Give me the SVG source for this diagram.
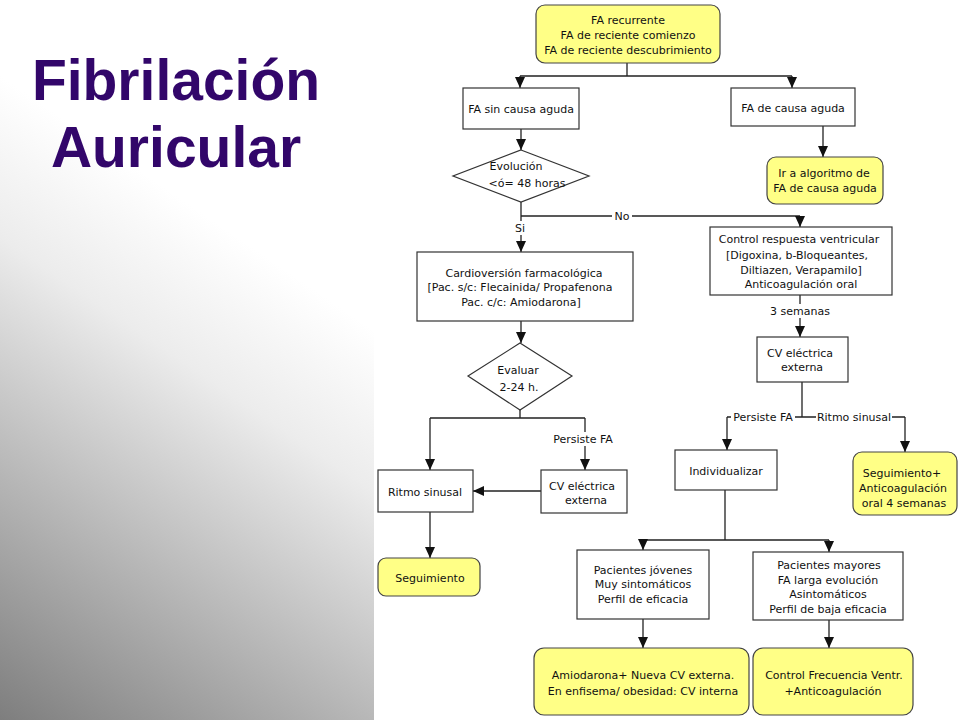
<svg xmlns="http://www.w3.org/2000/svg" width="960" height="720" viewBox="0 0 960 720">
<defs>
<linearGradient id="bg" gradientUnits="userSpaceOnUse" x1="300" y1="280" x2="0" y2="720">
<stop offset="0" stop-color="#ffffff"/>
<stop offset="0.25" stop-color="#ececec"/>
<stop offset="1" stop-color="#7e7e7e"/>
</linearGradient>
<marker id="arr" markerUnits="userSpaceOnUse" markerWidth="12" markerHeight="12" viewBox="0 0 12 12" refX="11" refY="6" orient="auto">
<path d="M0,1 L11,6 L0,11 Z" fill="#111"/>
</marker>
<style>
.box{fill:#ffffff;stroke:#333;stroke-width:1.2}
.yel{fill:#ffff86;stroke:#444;stroke-width:1.2}
.t{font-family:"DejaVu Sans",Verdana,sans-serif;font-size:11px;fill:#111;text-anchor:middle}
.ln{fill:none;stroke:#222;stroke-width:1.3}
.ar{fill:none;stroke:#222;stroke-width:1.3;marker-end:url(#arr)}
.lb{fill:#ffffff}
.title{font-family:"Liberation Sans",Arial,sans-serif;font-weight:bold;font-size:57px;fill:#32066a;text-anchor:middle}
</style>
</defs>
<rect x="0" y="0" width="374" height="720" fill="url(#bg)"/>
<rect x="374" y="0" width="586" height="720" fill="#ffffff"/>
<g id="title">
<text class="title" x="176" y="100">Fibrilación</text>
<text class="title" x="176" y="167">Auricular</text>
</g>

<g id="connectors">
<path class="ln" d="M627,63 V76 M520,76 H792"/>
<path class="ar" d="M520,76 V88"/>
<path class="ar" d="M792,76 V88"/>
<path class="ar" d="M521,129 V150"/>
<path class="ar" d="M823,126 V157"/>
<path class="ar" d="M521,202 V252"/>
<path class="ln" d="M521,216 H800"/>
<path class="ar" d="M800,216 V227"/>
<path class="ar" d="M521,321 V343"/>
<path class="ln" d="M520,410 V418 M430,418 H585"/>
<path class="ar" d="M430,418 V470"/>
<path class="ar" d="M585,418 V470"/>
<path class="ar" d="M541,491 H473"/>
<path class="ar" d="M430,512 V558"/>
<path class="ar" d="M800,295 V337"/>
<path class="ln" d="M802,382 V417 M727,417 H905"/>
<path class="ar" d="M727,417 V450"/>
<path class="ar" d="M905,417 V452"/>
<path class="ln" d="M725,490 V540 M643,540 H829"/>
<path class="ar" d="M643,540 V550"/>
<path class="ar" d="M829,540 V552"/>
<path class="ar" d="M643,619 V648"/>
<path class="ar" d="M829,620 V648"/>
<rect class="lb" x="513" y="221" width="15" height="14"/>
<text class="t" x="520" y="232">Si</text>
<rect class="lb" x="612" y="210" width="20" height="12"/>
<text class="t" x="622" y="220">No</text>
<rect class="lb" x="550" y="432" width="68" height="14"/>
<text class="t" x="583" y="443">Persiste FA</text>
<rect class="lb" x="768" y="304" width="64" height="14"/>
<text class="t" x="800" y="315">3 semanas</text>
<rect class="lb" x="731" y="410" width="64" height="14"/>
<text class="t" x="763" y="421">Persiste FA</text>
<rect class="lb" x="816" y="410" width="76" height="14"/>
<text class="t" x="854" y="421">Ritmo sinusal</text>
</g>

<g id="n1">
<rect class="yel" x="536" y="5" width="184" height="58" rx="9"/>
<text class="t" x="628" y="24">FA recurrente</text>
<text class="t" x="628" y="39">FA de reciente comienzo</text>
<text class="t" x="628" y="54">FA de reciente descubrimiento</text>
</g>
<g id="n2">
<rect class="box" x="463" y="88" width="116" height="41"/>
<text class="t" x="521" y="113">FA sin causa aguda</text>
</g>
<g id="n3">
<rect class="box" x="731" y="88" width="124" height="38"/>
<text class="t" x="793" y="112">FA de causa aguda</text>
</g>
<g id="n4">
<polygon class="box" points="521,150 589,176 521,202 453,176"/>
<text class="t" x="516" y="170">Evolución</text>
<text class="t" x="527" y="187">&lt;ó= 48 horas</text>
</g>
<g id="n5">
<rect class="yel" x="767" y="157" width="116" height="47" rx="9"/>
<text class="t" x="824" y="177">Ir a algoritmo de</text>
<text class="t" x="825" y="192">FA de causa aguda</text>
</g>
<g id="n6">
<rect class="box" x="417" y="252" width="216" height="69"/>
<text class="t" x="524" y="277">Cardioversión farmacológica</text>
<text class="t" x="520" y="291">[Pac. s/c: Flecainida/ Propafenona</text>
<text class="t" x="521" y="306">Pac. c/c: Amiodarona]</text>
</g>
<g id="n7">
<polygon class="box" points="520,343 572,376 520,410 468,376"/>
<text class="t" x="518" y="374">Evaluar</text>
<text class="t" x="519" y="391">2-24 h.</text>
</g>
<g id="n8">
<rect class="box" x="378" y="470" width="95" height="42"/>
<text class="t" x="425" y="496">Ritmo sinusal</text>
</g>
<g id="n9">
<rect class="box" x="541" y="470" width="86" height="43"/>
<text class="t" x="582" y="490">CV eléctrica</text>
<text class="t" x="586" y="504">externa</text>
</g>
<g id="n10">
<rect class="yel" x="378" y="558" width="102" height="38" rx="8"/>
<text class="t" x="430" y="582">Seguimiento</text>
</g>
<g id="n11">
<rect class="box" x="710" y="227" width="182" height="68"/>
<text class="t" x="799" y="243">Control respuesta ventricular</text>
<text class="t" x="797" y="259">[Digoxina, b-Bloqueantes,</text>
<text class="t" x="801" y="274">Diltiazen, Verapamilo]</text>
<text class="t" x="801" y="288">Anticoagulación oral</text>
</g>
<g id="n12">
<rect class="box" x="757" y="337" width="91" height="45"/>
<text class="t" x="800" y="357">CV eléctrica</text>
<text class="t" x="802" y="371">externa</text>
</g>
<g id="n13">
<rect class="box" x="675" y="450" width="102" height="40"/>
<text class="t" x="726" y="475">Individualizar</text>
</g>
<g id="n14">
<rect class="yel" x="853" y="452" width="104" height="63" rx="9"/>
<text class="t" x="902" y="477">Seguimiento+</text>
<text class="t" x="903" y="492">Anticoagulación</text>
<text class="t" x="904" y="507">oral 4 semanas</text>
</g>
<g id="n15">
<rect class="box" x="577" y="550" width="132" height="69"/>
<text class="t" x="643" y="574">Pacientes jóvenes</text>
<text class="t" x="643" y="588">Muy sintomáticos</text>
<text class="t" x="643" y="603">Perfil de eficacia</text>
</g>
<g id="n16">
<rect class="box" x="753" y="552" width="150" height="68"/>
<text class="t" x="829" y="569">Pacientes mayores</text>
<text class="t" x="828" y="584">FA larga evolución</text>
<text class="t" x="828" y="598">Asintomáticos</text>
<text class="t" x="828" y="613">Perfil de baja eficacia</text>
</g>
<g id="n17">
<rect class="yel" x="534" y="648" width="215" height="67" rx="10"/>
<text class="t" x="643" y="679">Amiodarona+ Nueva CV externa.</text>
<text class="t" x="643" y="695">En enfisema/ obesidad: CV interna</text>
</g>
<g id="n18">
<rect class="yel" x="753" y="648" width="160" height="67" rx="10"/>
<text class="t" x="834" y="679">Control Frecuencia Ventr.</text>
<text class="t" x="833" y="695">+Anticoagulación</text>
</g>
</svg>
